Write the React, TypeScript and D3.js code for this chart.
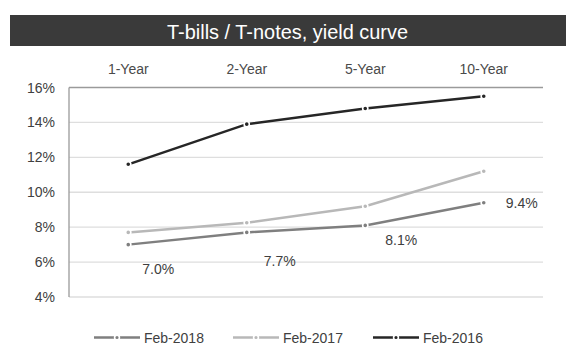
import React from "react";
import * as d3 from "d3";

const categories = ["1-Year", "2-Year", "5-Year", "10-Year"];
const seriesNames = ["Feb-2018", "Feb-2017", "Feb-2016"];
const feb2018 = [7.0, 7.7, 8.1, 9.4];
const feb2017 = [7.7, 8.25, 9.2, 11.2];
const feb2016 = [11.6, 13.9, 14.8, 15.5];
const yTicks = [4, 6, 8, 10, 12, 14, 16];
const labelValues = ["7.0%", "7.7%", "8.1%", "9.4%"];

const W = 571;
const H = 346;
const left = 69;
const right = 543;
const top = 87.5;
const bottom = 297;

export default function App() {
  const x = d3.scaleBand<string>().domain(categories).range([left, right]);
  const y = d3.scaleLinear().domain([4, 16]).range([bottom, top]);
  const cx = (c: string) => (x(c) as number) + x.bandwidth() / 2;

  const series = [
    { name: seriesNames[2], values: feb2016, color: "#262626" },
    { name: seriesNames[1], values: feb2017, color: "#b8b8b8" },
    { name: seriesNames[0], values: feb2018, color: "#7f7f7f" },
  ];
  const line = d3
    .line<number>()
    .x((_, i) => cx(categories[i]))
    .y((d) => y(d));

  const labelOffsets = [
    [30, 24],
    [33, 29],
    [36, 15],
    [38, 0],
  ];

  const legendOrder = [
    { name: seriesNames[0], color: "#7f7f7f", x: 94 },
    { name: seriesNames[1], color: "#b8b8b8", x: 233 },
    { name: seriesNames[2], color: "#262626", x: 373 },
  ];

  const font = "'Liberation Sans', Arial, sans-serif";

  return (
    <svg width={W} height={H} style={{ position: "absolute", left: 0, top: 0, background: "#fff" }}>
      <rect x={0} y={0} width={W} height={H} fill="#fff" />
      <rect x={10} y={15} width={556} height={31} fill="#3a3a3a" />
      <text
        x={167}
        y={38.5}
        textLength={241}
        lengthAdjust="spacingAndGlyphs"
        fill="#fff"
        fontFamily="'Liberation Sans Narrow', 'Arial Narrow', 'Liberation Sans', sans-serif"
        fontSize={21}
      >
        T-bills / T-notes, yield curve
      </text>

      {categories.map((c) => (
        <text
          key={c}
          x={cx(c)}
          y={74}
          textAnchor="middle"
          fontFamily={font}
          fontSize={14}
          fill="#4a4a4a"
        >
          {c}
        </text>
      ))}

      {yTicks.map((t) => (
        <g key={t}>
          <line
            x1={left}
            x2={right}
            y1={y(t)}
            y2={y(t)}
            stroke={t === 16 ? "#9a9a9a" : "#dedede"}
            strokeWidth={1.3}
          />
          <text
            x={55}
            y={y(t)}
            textAnchor="end"
            dominantBaseline="central"
            fontFamily={font}
            fontSize={14}
            fill="#404040"
          >
            {t}%
          </text>
        </g>
      ))}
      <line x1={left} x2={left} y1={top} y2={bottom} stroke="#9a9a9a" strokeWidth={1.3} />

      {series.map((s) => (
        <g key={s.name}>
          <path d={line(s.values) || ""} fill="none" stroke={s.color} strokeWidth={2.5} />
          {s.values.map((v, i) => (
            <circle
              key={i}
              cx={cx(categories[i])}
              cy={y(v)}
              r={2.6}
              fill={s.color}
              stroke="#fff"
              strokeWidth={1.6}
            />
          ))}
        </g>
      ))}

      {feb2018.map((v, i) => (
        <text
          key={i}
          x={cx(categories[i]) + labelOffsets[i][0]}
          y={y(v) + labelOffsets[i][1]}
          textAnchor="middle"
          dominantBaseline="central"
          fontFamily={font}
          fontSize={14}
          fill="#404040"
        >
          {labelValues[i]}
        </text>
      ))}

      {legendOrder.map((l) => (
        <g key={l.name}>
          <line x1={l.x} x2={l.x + 46} y1={337.5} y2={337.5} stroke={l.color} strokeWidth={2.5} />
          <circle cx={l.x + 23} cy={337.5} r={2.4} fill={l.color} stroke="#fff" strokeWidth={1.6} />
          <text
            x={l.x + 50}
            y={337.5}
            dominantBaseline="central"
            fontFamily={font}
            fontSize={14}
            fill="#404040"
          >
            {l.name}
          </text>
        </g>
      ))}
    </svg>
  );
}
